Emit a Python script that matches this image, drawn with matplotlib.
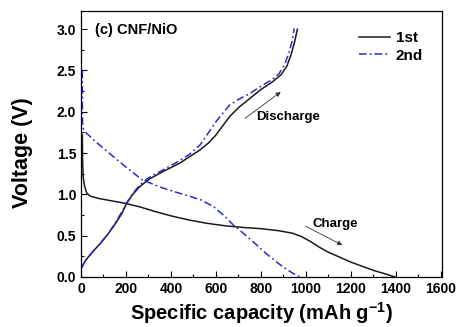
import matplotlib
matplotlib.use("Agg")
import matplotlib.pyplot as plt
from matplotlib.ticker import MultipleLocator

# 1st cycle, curve going down (labelled "Charge")
cap1_down = [6, 7, 10, 16, 25, 40, 80, 140, 200, 260, 320, 400, 480, 560, 640, 720, 800,
             880, 940, 980, 1020, 1060, 1100, 1150, 1200, 1250, 1300, 1350, 1396]
v1_down = [1.72, 1.40, 1.20, 1.10, 1.02, 0.98, 0.95, 0.92, 0.89, 0.85, 0.80, 0.74, 0.69,
           0.65, 0.62, 0.60, 0.585, 0.56, 0.53, 0.49, 0.43, 0.36, 0.30, 0.24, 0.18,
           0.13, 0.08, 0.04, 0.0]
# 1st cycle, curve going up (labelled "Discharge")
cap1_up = [0, 20, 50, 84, 120, 144, 180, 203, 230, 260, 300, 360, 440, 530, 570, 600,
           630, 660, 700, 750, 800, 850, 890, 915, 935, 950, 962]
v1_up = [0.10, 0.20, 0.30, 0.40, 0.52, 0.61, 0.76, 0.89, 1.00, 1.09, 1.18, 1.27, 1.38,
         1.54, 1.63, 1.72, 1.83, 1.94, 2.05, 2.16, 2.27, 2.36, 2.45, 2.55, 2.70, 2.85, 3.00]
# 2nd cycle
cap2_down = [6, 6, 7, 12, 25, 60, 125, 200, 270, 350, 418, 480, 536, 590, 633, 677, 730,
             780, 825, 870, 910, 945, 975]
v2_down = [2.50, 2.10, 1.85, 1.78, 1.74, 1.65, 1.50, 1.33, 1.18, 1.09, 1.03, 0.98, 0.93,
           0.85, 0.75, 0.63, 0.51, 0.39, 0.28, 0.18, 0.10, 0.04, 0.0]
cap2_up = [0, 20, 50, 84, 120, 144, 180, 203, 230, 260, 300, 360, 420, 480, 530, 570, 600,
           630, 660, 700, 750, 800, 850, 880, 905, 925, 940, 948]
v2_up = [0.10, 0.20, 0.30, 0.40, 0.52, 0.62, 0.78, 0.90, 1.01, 1.11, 1.20, 1.29, 1.38,
         1.48, 1.60, 1.76, 1.88, 1.98, 2.08, 2.15, 2.22, 2.31, 2.39, 2.46, 2.57, 2.72,
         2.87, 3.01]

series_labels = ["1st", "2nd"]
x_label = "Specific capacity (mAh g$^{\\mathbf{-1}}$)"
y_label = "Voltage (V)"
panel_title = "(c) CNF/NiO"

plt.rcParams['font.family'] = ['Liberation Sans', 'DejaVu Sans']
plt.rcParams['font.weight'] = 'bold'
plt.rcParams['mathtext.fontset'] = 'custom'
plt.rcParams['mathtext.rm'] = 'Liberation Sans:bold'
plt.rcParams['mathtext.bf'] = 'Liberation Sans:bold'

fig = plt.figure(figsize=(4.61, 3.27), dpi=100)
ax = fig.add_axes([81 / 461, 1 - 277 / 327, (442 - 81) / 461, (277 - 11) / 327])

black = '#1a1a1a'
blue = '#2b2bcc'
ax.plot(cap1_down, v1_down, color=black, lw=1.1, label=series_labels[0])
ax.plot(cap1_up, v1_up, color=black, lw=1.1)
ax.plot(cap2_down, v2_down, color=blue, lw=1.1, dashes=[5, 2, 1.2, 2], label=series_labels[1])
ax.plot(cap2_up, v2_up, color=blue, lw=1.1, dashes=[5, 2, 1.2, 2])

ax.set_xlim(0, 1605)
ax.set_ylim(0, 3.22)
ax.xaxis.set_major_locator(MultipleLocator(200))
ax.xaxis.set_minor_locator(MultipleLocator(100))
ax.yaxis.set_major_locator(MultipleLocator(0.5))
ax.yaxis.set_minor_locator(MultipleLocator(0.25))
ax.yaxis.set_major_formatter(plt.FormatStrFormatter('%.1f'))
ax.tick_params(which='both', direction='in', top=False, right=False, labelsize=10, pad=3.5)
ax.tick_params(which='major', length=4, width=0.8)
ax.tick_params(which='minor', length=2.5, width=0.8)
for s in ax.spines.values():
    s.set_linewidth(0.9)

ax.set_xlabel(x_label, fontsize=14.5, fontweight='bold', labelpad=3)
ax.set_ylabel(y_label, fontsize=15.5, fontweight='bold')
ax.yaxis.set_label_coords(-0.133, 0.468)

ax.text(0.04, 0.93, panel_title, transform=ax.transAxes, fontsize=10.5, fontweight='bold',
        va='center', ha='left')

leg = ax.legend(loc='upper right', bbox_to_anchor=(0.986, 0.977), frameon=False,
                fontsize=11, handlelength=2.0, handletextpad=0.4, labelspacing=0.25,
                borderaxespad=0.5)

ax.annotate('', xy=(898, 2.26), xytext=(719, 1.90),
            arrowprops=dict(arrowstyle='-|>', color='#333333', lw=0.6, mutation_scale=7))
ax.text(780, 1.94, 'Discharge', fontsize=9.5, fontweight='bold', va='center', ha='left')
ax.annotate('', xy=(1173, 0.37), xytext=(988, 0.63),
            arrowprops=dict(arrowstyle='-|>', color='#333333', lw=0.6, mutation_scale=7))
ax.text(1030, 0.64, 'Charge', fontsize=9.5, fontweight='bold', va='center', ha='left')

fig.savefig('out.png', dpi=100)
